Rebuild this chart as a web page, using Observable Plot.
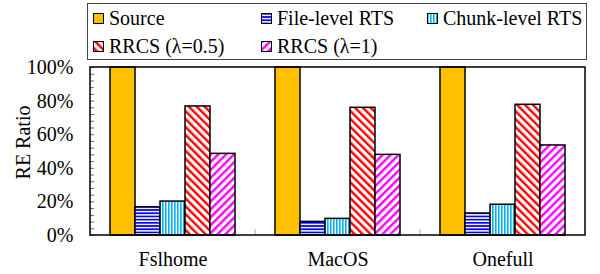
<!DOCTYPE html>
<html><head><meta charset="utf-8">
<script src="https://cdn.jsdelivr.net/npm/d3@7"></script>
<script src="https://cdn.jsdelivr.net/npm/@observablehq/plot@0.6"></script>
<style>
body{margin:0;background:#fff;font-family:"Liberation Serif","Times New Roman",serif;}
#wrap{position:relative;width:600px;height:274px;overflow:hidden;}
#legend{position:relative;width:600px;height:62px;}
#legend .box{position:absolute;left:87px;top:3px;width:500px;height:57px;box-sizing:border-box;border:1px solid #444;}
.item{position:absolute;font-size:20px;line-height:20px;height:20px;display:flex;align-items:center;white-space:nowrap;color:#000;}
.item svg{margin-right:5px;flex:none;}
#chart svg{display:block;}
</style></head><body>
<svg width="0" height="0" style="position:absolute">
  <defs>
    <pattern id="p-file" width="4" height="3.2" patternUnits="userSpaceOnUse">
      <rect width="4" height="3.2" fill="#fff"/><rect width="4" height="1.7" fill="#0000FF"/>
    </pattern>
    <pattern id="p-chunk" width="3" height="4" patternUnits="userSpaceOnUse">
      <rect width="3" height="4" fill="#fff"/><rect width="1.6" height="4" fill="#00B0F0"/>
    </pattern>
    <pattern id="p-red" width="5.6" height="5.6" patternUnits="userSpaceOnUse" patternTransform="rotate(-45)">
      <rect width="5.6" height="5.6" fill="#fff"/><rect width="2.4" height="5.6" fill="#FF0000"/>
    </pattern>
    <pattern id="p-mag" width="5.6" height="5.6" patternUnits="userSpaceOnUse" patternTransform="rotate(45)">
      <rect width="5.6" height="5.6" fill="#fff"/><rect width="2.4" height="5.6" fill="#FF00FF"/>
    </pattern>
  </defs>
</svg>
<div id="wrap"><div id="legend"><div class="box"></div></div><div id="chart"></div></div>
<script>
// ---- data ----
const categories = ["Fslhome", "MacOS", "Onefull"];
const series = ["Source", "File-level RTS", "Chunk-level RTS", "RRCS (λ=0.5)", "RRCS (λ=1)"];
const source   = [100, 100, 100];
const fileRTS  = [16.8, 8.1, 13.1];
const chunkRTS = [20.2, 9.9, 18.3];
const rrcs05   = [76.8, 76.0, 77.8];
const rrcs1    = [48.6, 48.0, 53.6];
const yTicks = [0, 20, 40, 60, 80, 100];
const minorTicks = d3.range(0, 101, 4);

// ---- styles ----
const fills = ["#FFC000", "url(#p-file)", "url(#p-chunk)", "url(#p-red)", "url(#p-mag)"];
const legendPos = [[93, 8], [261, 8], [427, 8], [93, 36], [261, 36]];

const values = [source, fileRTS, chunkRTS, rrcs05, rrcs1];
const rows = [];
categories.forEach((c, i) => series.forEach((s, j) => rows.push({category: c, series: s, value: values[j][i]})));

// legend
const legend = d3.select("#legend");
series.forEach((s, j) => {
  const it = legend.append("div").attr("class", "item")
    .style("left", legendPos[j][0] + "px").style("top", legendPos[j][1] + "px");
  const sw = it.append("svg").attr("width", 11).attr("height", 11);
  sw.append("rect").attr("x", 0.5).attr("y", 0.5).attr("width", 10).attr("height", 10)
    .attr("fill", fills[j]).attr("stroke", "#000").attr("stroke-width", 1);
  it.append("span").text(s);
});

const chart = Plot.plot({
  width: 600, height: 212,
  marginTop: 5, marginBottom: 39, marginLeft: 90, marginRight: 15,
  style: {fontFamily: "'Liberation Serif', 'Times New Roman', serif", fontSize: "20px", color: "#000", background: "#fff", overflow: "visible"},
  fx: {domain: categories, padding: 0, label: null},
  x: {domain: series, paddingInner: 0, paddingOuter: 0.74, axis: null},
  y: {domain: [0, 100]},
  color: {type: "ordinal", domain: series, range: fills},
  marks: [
    Plot.barY(rows, {fx: "category", x: "series", y: "value", fill: "series", stroke: "#000", strokeWidth: 1.5}),
    Plot.axisY({ticks: minorTicks, tickSize: -4, tickFormat: () => "", stroke: "#666", label: null}),
    Plot.axisY({ticks: yTicks, tickSize: 0, tickPadding: 17, tickFormat: d => d + "%", label: "RE Ratio", labelAnchor: "center", labelOffset: 75, labelArrow: false}),
    Plot.axisFx({anchor: "bottom", tickSize: 0, tickPadding: 16, label: null})
  ]
});
document.getElementById("chart").appendChild(chart);

// outer frame and group separator ticks, from the scales
const fx = chart.scale("fx"), y = chart.scale("y");
const svg = d3.select(chart);
svg.selectAll('[aria-label="y-axis label"]').attr("transform", function () {
  return "translate(0,-9) " + (this.getAttribute("transform") || "");
});
const x0 = fx.range[0], x1 = fx.range[1];
const yb = y.apply(0), yt = y.apply(100);
categories.slice(1).forEach(c => {
  const xs = fx.apply(c);
  svg.append("line").attr("x1", xs).attr("x2", xs).attr("y1", yb).attr("y2", yb - 6)
    .attr("stroke", "#aaa").attr("stroke-width", 1);
});
svg.append("rect").attr("x", x0).attr("y", yt).attr("width", x1 - x0).attr("height", yb - yt)
  .attr("fill", "none").attr("stroke", "#000").attr("stroke-width", 1.5);
</script>
</body></html>
